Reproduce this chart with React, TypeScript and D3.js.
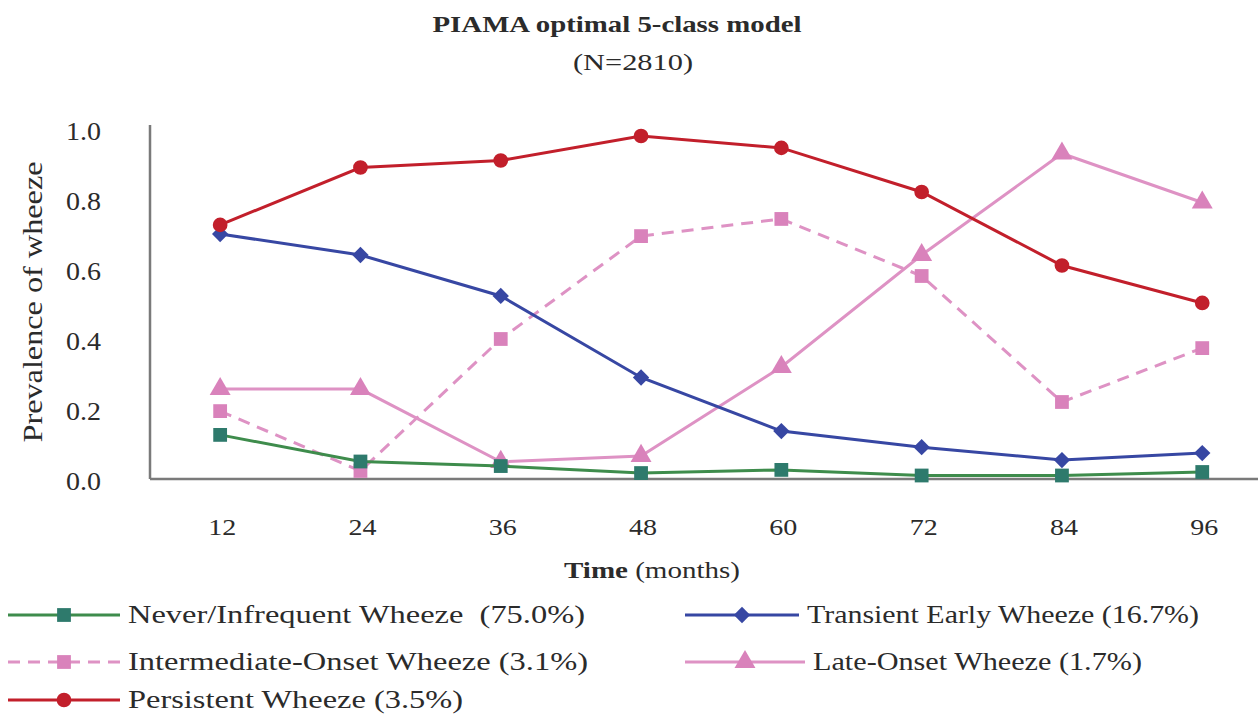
import React from "react";
import * as d3 from "d3";

const months = ["12", "24", "36", "48", "60", "72", "84", "96"];
const yTicks = [0, 0.2, 0.4, 0.6, 0.8, 1.0];

const neverValues = [0.126, 0.05, 0.037, 0.017, 0.026, 0.01, 0.01, 0.02];
const transientValues = [0.7, 0.64, 0.523, 0.29, 0.137, 0.091, 0.054, 0.074];
const intermediateValues = [0.194, 0.023, 0.4, 0.694, 0.743, 0.58, 0.22, 0.374];
const lateValues = [0.257, 0.257, 0.049, 0.066, 0.32, 0.64, 0.93, 0.79];
const persistentValues = [0.726, 0.89, 0.91, 0.98, 0.946, 0.82, 0.61, 0.503];

const seriesNames = [
  "Never/Infrequent Wheeze  (75.0%)",
  "Transient Early Wheeze (16.7%)",
  "Intermediate-Onset Wheeze (3.1%)",
  "Late-Onset Wheeze (1.7%)",
  "Persistent Wheeze (3.5%)",
];

const font = "'Times New Roman', Times, 'Liberation Serif', serif";
const textColor = "#2b2b2b";

type Series = {
  name: string;
  values: number[];
  line: string;
  marker: string;
  symbol: d3.SymbolType;
  size: number;
  dash?: string;
};

const series: Series[] = [
  { name: seriesNames[2], values: intermediateValues, line: "#de92c4", marker: "#d982bb", symbol: d3.symbolSquare, size: 190, dash: "12,8" },
  { name: seriesNames[3], values: lateValues, line: "#de92c4", marker: "#d982bb", symbol: d3.symbolTriangle, size: 190 },
  { name: seriesNames[0], values: neverValues, line: "#3e8c4c", marker: "#2e7a6c", symbol: d3.symbolSquare, size: 190 },
  { name: seriesNames[1], values: transientValues, line: "#3747a3", marker: "#3747a3", symbol: d3.symbolDiamond2, size: 170 },
  { name: seriesNames[4], values: persistentValues, line: "#c21f2b", marker: "#c21f2b", symbol: d3.symbolCircle, size: 170 },
];

const Marker = ({ s, x, y }: { s: Series; x: number; y: number }) => (
  <path transform={`translate(${x},${y})`} d={d3.symbol(s.symbol, s.size)() || ""} fill={s.marker} />
);

const App = () => {
  const width = 1258;
  const height = 715;
  const margin = { left: 150, top: 129, bottom: 479 };

  const x = d3.scaleBand().domain(months).range([margin.left, margin.left + 8 * 140.3]);
  const y = d3.scaleLinear().domain([0, 1]).range([margin.bottom, margin.top]);
  const cx = (m: string) => (x(m) || 0) + x.bandwidth() / 2;

  const line = d3.line<number>()
    .x((_, i) => cx(months[i]))
    .y(d => y(d));

  // legend slots: [series name, x of line start, x of text, baseline y, text length]
  const legend: [string, number, number, number, number][] = [
    [seriesNames[0], 8, 128, 623, 457],
    [seriesNames[2], 8, 128, 670, 460],
    [seriesNames[4], 8, 128, 708, 335],
    [seriesNames[1], 685, 807, 623, 392],
    [seriesNames[3], 685, 813, 670, 329],
  ];

  return (
    <svg width={width} height={height} style={{ position: "absolute", left: 0, top: 0, background: "#fff" }}
      fontFamily={font}>
      <text x={617} y={32} textAnchor="middle" fontSize="23" fontWeight="bold" fill={textColor}
        textLength={369} lengthAdjust="spacingAndGlyphs">PIAMA optimal 5-class model</text>
      <text x={633} y={70} textAnchor="middle" fontSize="23" fill={textColor}
        textLength={120} lengthAdjust="spacingAndGlyphs">(N=2810)</text>

      <text transform="translate(42, 302) rotate(-90)" textAnchor="middle" fontSize="27" fill={textColor}
        textLength={281} lengthAdjust="spacingAndGlyphs">Prevalence of wheeze</text>

      {yTicks.map(t => (
        <text key={t} x={101} y={y(t) + 11} textAnchor="end" fontSize="25" fill={textColor}
          textLength={35} lengthAdjust="spacingAndGlyphs">{t.toFixed(1)}</text>
      ))}

      {months.map(m => (
        <text key={m} x={cx(m) + 2} y={535} textAnchor="middle" fontSize="24" fill={textColor}
          textLength={28} lengthAdjust="spacingAndGlyphs">{m}</text>
      ))}

      <text x={652} y={578} textAnchor="middle" fontSize="24" fill={textColor}
        textLength={176} lengthAdjust="spacingAndGlyphs">
        <tspan fontWeight="bold">Time</tspan> (months)
      </text>

      <line x1={margin.left} x2={margin.left} y1={125} y2={y(0)} stroke="#7a7a7a" strokeWidth={2.5} />
      <line x1={margin.left} x2={width} y1={y(0)} y2={y(0)} stroke="#7a7a7a" strokeWidth={2.5} />

      {series.map(s => (
        <g key={s.name}>
          <path d={line(s.values) || ""} fill="none" stroke={s.line} strokeWidth={3}
            strokeDasharray={s.dash} />
          {s.values.map((v, i) => <Marker key={i} s={s} x={cx(months[i])} y={y(v)} />)}
        </g>
      ))}

      {legend.map(([name, lx, tx, by, tl]) => {
        const s = series.find(d => d.name === name)!;
        const my = by - 8;
        const x2 = tx - 8;
        return (
          <g key={name}>
            <line x1={lx} x2={x2} y1={my} y2={my} stroke={s.line} strokeWidth={3} strokeDasharray={s.dash} />
            <Marker s={s} x={(lx + x2) / 2} y={my} />
            <text x={tx} y={by} fontSize="25" fill={textColor} textLength={tl}
              lengthAdjust="spacingAndGlyphs" xmlSpace="preserve">{name}</text>
          </g>
        );
      })}
    </svg>
  );
};

export default App;
